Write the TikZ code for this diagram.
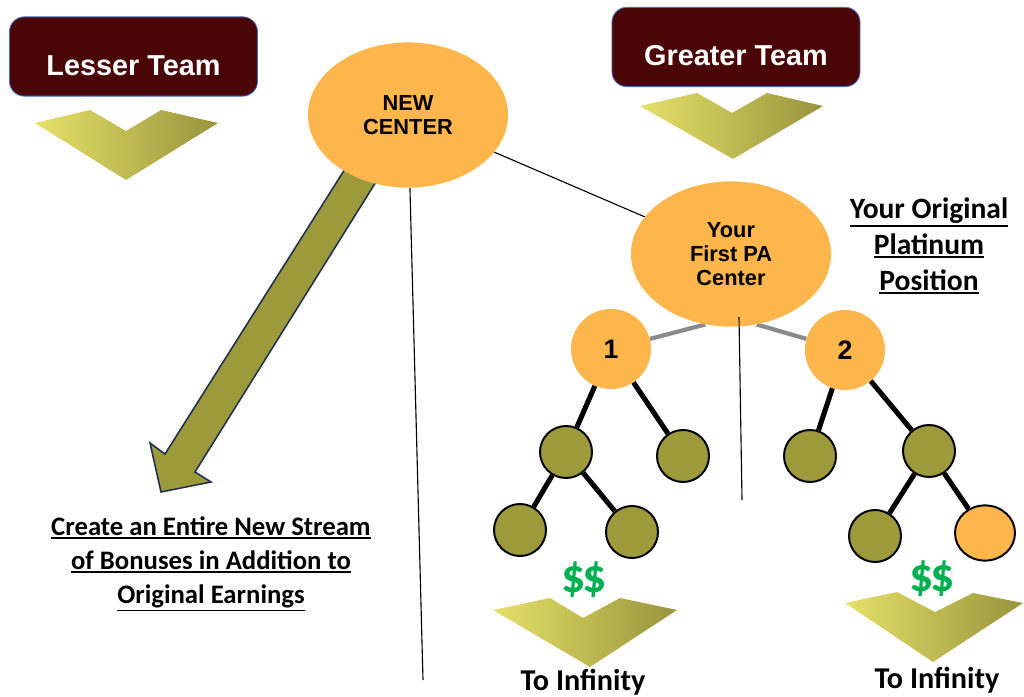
\documentclass[tikz,border=0pt]{standalone}
\usepackage{fontspec}
\setmainfont{Liberation Sans}
\newfontfamily\calibrifont{Carlito}
\usetikzlibrary{shapes.geometric,backgrounds}
\definecolor{teamRed}{HTML}{4A0507}
\definecolor{boxBlue}{HTML}{4472C4}
\definecolor{paOrange}{HTML}{FDB64B}
\definecolor{leafOlive}{HTML}{9C9A3A}
\definecolor{legGray}{HTML}{8A8A8A}
\definecolor{arrowNavy}{HTML}{1F2F4F}
\definecolor{chevLight}{HTML}{E6E168}
\definecolor{chevDark}{HTML}{98943E}
\definecolor{cashGreen}{HTML}{00B050}
% underline that sits below the descenders of its text
\newcommand{\ulline}[1]{\setbox0=\hbox{#1}\leavevmode\vtop{\copy0\kern1pt\hrule height 1.3pt width \wd0}}
\begin{document}
\begin{tikzpicture}
[x=0.025cm, y=-0.025cm,
  teamBox/.style={rectangle, rounded corners=0.37cm, fill=teamRed, draw=boxBlue, line width=0.6pt,
    minimum width=6.2cm, minimum height=1.98cm, text=white,
    font=\bfseries\fontsize{20.5}{24}\selectfont, text height=0.93cm, text depth=0pt},
  centerDecorate/.style={ellipse, fill=paOrange, minimum width=5cm, minimum height=3.63cm,
    inner sep=0pt, align=center, font=\bfseries\fontsize{15.5}{17}\selectfont},
  legDecorate/.style={circle, fill=paOrange, minimum size=2cm, inner sep=0pt,
    font=\bfseries\fontsize{19}{22}\selectfont},
  nodeDecorate/.style={circle, fill=leafOlive, draw=black, line width=1.4pt, minimum size=1.3cm, inner sep=0pt},
  tipDecorate/.style={ellipse, fill=paOrange, draw=black, line width=1.4pt, minimum width=1.5cm, minimum height=1.38cm, inner sep=0pt},
  lineDecorate/.style={-, line width=3.6pt},
  grayDecorate/.style={-, line width=3pt, draw=legGray},
  thinDecorate/.style={-, line width=0.8pt},
  chevron/.style={left color=chevLight, right color=chevDark},
  noteText/.style={align=center, font=\calibrifont\bfseries\fontsize{21}{25.5}\selectfont},
  cashText/.style={text=cashGreen, font=\calibrifont\bfseries\fontsize{34}{36}\selectfont},
  scale=1]
\useasboundingbox (0,0) rectangle (1024,696);
%% chevrons
\shade[chevron] (35,123) -- (90,110) -- (126,131) -- (161,110) -- (218,123) -- (126,180) -- cycle;
\shade[chevron] (640,106) -- (697,93) -- (732,113) -- (767,93) -- (823,106) -- (733,159) -- cycle;
\shade[chevron] (493,610) -- (550,598) -- (583,618) -- (620,598) -- (677,610) -- (590,667) -- cycle;
\shade[chevron] (845,603) -- (897,592) -- (935,612) -- (973,593) -- (1023,603) -- (933,662) -- cycle;
%% team boxes
\node (lesser) at (133.5,56.5) [teamBox] {Lesser Team};
\node (greater) at (736,47) [teamBox] {Greater Team};
%% centers
\node (nc) at (408,115) [centerDecorate] {NEW\\CENTER};
\node (pa) at (731,254) [centerDecorate] {Your\\First PA\\Center};
\node (1) at (611,349) [legDecorate] {1};
\node (2) at (845,350) [legDecorate] {2};
%% nodes or vertices
\foreach \nodename/\x/\y in {
  a/566/452, b/683/456, c/520/530, d/632/532,
  e/810/456, f/929/451, g/875/536}
{
  \node (\nodename) at (\x,\y) [nodeDecorate] {};
}
\node (h) at (985,533) [tipDecorate] {};
%% edges or lines
\path
\foreach \startnode/\endnode in {1/a, 1/b, a/c, a/d, 2/e, 2/f, f/g, f/h}
{
  (\startnode) edge[lineDecorate] (\endnode)
};
\coordinate (ncfoot) at (423,680);
\coordinate (pastem) at (739,317);
\coordinate (pafoot) at (742,500);
\begin{scope}[on background layer]
  \draw[thinDecorate] (nc) -- (pa);
  \draw[thinDecorate] (nc) -- (ncfoot);
  \draw[grayDecorate] (pa.-110) -- (1);
  \draw[grayDecorate] (pa.-70) -- (2);
  %% big arrow
  \filldraw[fill=leafOlive, draw=arrowNavy, line width=1.1pt, line join=miter]
    (362,142) -- (165,454) -- (150,443) -- (161,492) -- (211,482) -- (195,472) -- (394,153) -- cycle;
\end{scope}
\draw[thinDecorate] (pastem) -- (pafoot);
%% texts
\node (platinum) at (929,246) [noteText] {\ulline{Your Original}\\\ulline{Platinum}\\\ulline{Position}};
\node (stream) at (211,564) [noteText, font=\calibrifont\bfseries\fontsize{19}{24.3}\selectfont]
  {\ulline{Create an Entire New Stream}\\\ulline{of Bonuses in Addition to}\\\ulline{Original Earnings}};
\node (cashleft) at (584,580) [cashText] {\$\kern-2pt\$};
\node (cashright) at (932,579) [cashText] {\$\kern-2pt\$};
\node (infleft) at (583,690) [noteText, anchor=base, font=\calibrifont\bfseries\fontsize{21.5}{24}\selectfont] {To Infinity};
\node (infright) at (937,688) [noteText, anchor=base, font=\calibrifont\bfseries\fontsize{21.5}{24}\selectfont] {To Infinity};
\end{tikzpicture}
\end{document}
